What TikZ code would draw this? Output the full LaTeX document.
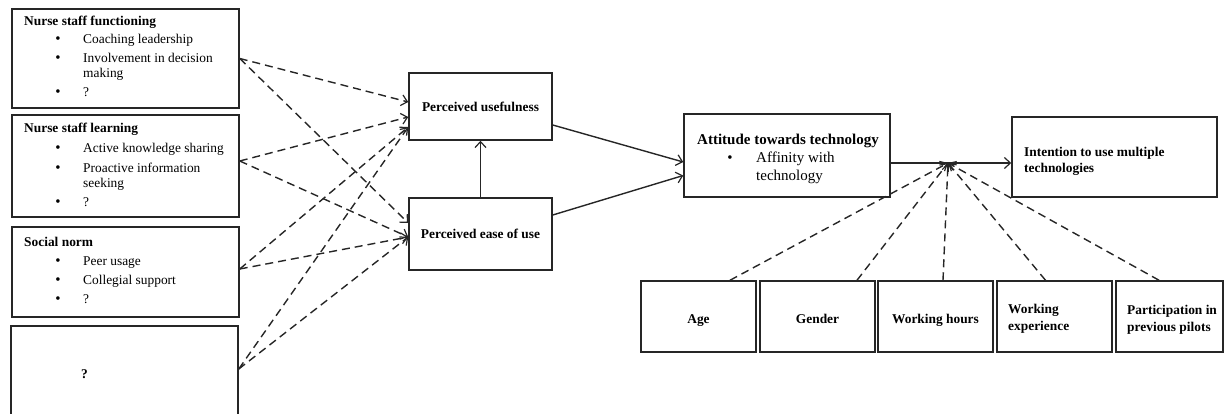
\documentclass[tikz,border=0pt]{standalone}
\usepackage{fontspec}
\setmainfont{Liberation Serif}
\usetikzlibrary{arrows.meta}
\begin{document}
\begin{tikzpicture}[x=1pt,y=-1pt,
  every node/.style={font=\fontsize{13.4}{15}\selectfont},
  box/.style={draw=black!85, line width=1.5pt, rectangle, inner sep=0pt},
  lbl/.style={inner sep=0pt, anchor=base west},
  ttl/.style={lbl, font=\fontsize{13.4}{15}\selectfont\bfseries},
  ctr/.style={inner sep=0pt, anchor=base, font=\fontsize{13.4}{15}\selectfont\bfseries},
  dot/.style={inner sep=0pt, anchor=base, font=\fontsize{15}{15}\selectfont},
  big/.style={font=\fontsize{15}{18}\selectfont},
  tip/.style={-{Straight Barb[length=6pt,width=11pt,line width=1.2pt]}},
  dsh/.style={draw=black!85, line width=1.4pt, dash pattern=on 8pt off 5pt, tip},
  sld/.style={draw=black!85, line width=1.4pt, tip}
]
\path[use as bounding box] (0,0) rectangle (1225,414);
\clip (0,0) rectangle (1225,414);

% ---- antecedent boxes (left column)
\node[box, minimum width=227pt, minimum height=99pt]  (b1) at (125.5,58.5) {};
\node[box, minimum width=227pt, minimum height=102pt] (b2) at (125.5,166) {};
\node[box, minimum width=227pt, minimum height=90pt]  (b3) at (125.5,272) {};
\node[box, minimum width=227pt, minimum height=90pt]  (b4) at (124.5,371) {};

\node[ttl] (b1t) at (24,26) {Nurse staff functioning};
\node[dot] (b1d1) at (58,44) {\textbullet};
\node[lbl] (b1i1) at (83,44) {Coaching leadership};
\node[dot] (b1d2) at (58,63) {\textbullet};
\node[lbl] (b1i2) at (83,63) {Involvement in decision};
\node[lbl] (b1i2b) at (83,78) {making};
\node[dot] (b1d3) at (58,97) {\textbullet};
\node[lbl] (b1i3) at (83,97) {?};

\node[ttl] (b2t) at (24,133) {Nurse staff learning};
\node[dot] (b2d1) at (58,153) {\textbullet};
\node[lbl] (b2i1) at (83,153) {Active knowledge sharing};
\node[dot] (b2d2) at (58,173) {\textbullet};
\node[lbl] (b2i2) at (83,173) {Proactive information};
\node[lbl] (b2i2b) at (83,188) {seeking};
\node[dot] (b2d3) at (58,207) {\textbullet};
\node[lbl] (b2i3) at (83,207) {?};

\node[ttl] (b3t) at (24,246) {Social norm};
\node[dot] (b3d1) at (58,265) {\textbullet};
\node[lbl] (b3i1) at (83,265) {Peer usage};
\node[dot] (b3d2) at (58,284) {\textbullet};
\node[lbl] (b3i2) at (83,284) {Collegial support};
\node[dot] (b3d3) at (58,303) {\textbullet};
\node[lbl] (b3i3) at (83,303) {?};

\node[ttl] (b4t) at (81,378) {?};

% ---- TAM core
\node[box, minimum width=143pt, minimum height=67pt] (pu) at (480.5,106.5) {};
\node[ctr] (put) at (480.5,112) {Perceived usefulness};
\node[box, minimum width=143pt, minimum height=72pt] (peou) at (480.5,234) {};
\node[ctr] (peout) at (480.5,238) {Perceived ease of use};

\node[box, minimum width=206pt, minimum height=83pt] (att) at (787,155.5) {};
\node[ctr, font=\fontsize{15}{18}\selectfont\bfseries] (attt) at (788,145) {Attitude towards technology};
\node[dot] (attd) at (730,163) {\textbullet};
\node[lbl, big] (atti1) at (756,163) {Affinity with};
\node[lbl, big] (atti1b) at (756,181) {technology};

\node[box, minimum width=205pt, minimum height=80pt] (int) at (1114.5,157) {};
\node[ttl] (intt1) at (1024,157) {Intention to use multiple};
\node[ttl] (intt2) at (1024,173) {technologies};

% ---- moderators
\node[box, minimum width=115pt, minimum height=71pt] (age) at (698.5,316.5) {};
\node[box, minimum width=115pt, minimum height=71pt] (gen) at (817.5,316.5) {};
\node[box, minimum width=115pt, minimum height=71pt] (wh)  at (935.5,316.5) {};
\node[box, minimum width=115pt, minimum height=71pt] (we)  at (1054.5,316.5) {};
\node[box, minimum width=107pt, minimum height=71pt] (par) at (1169.5,316.5) {};

\node[ctr] (aget) at (698.5,323) {Age};
\node[ctr] (gent) at (817.5,323) {Gender};
\node[ctr] (wht)  at (935.5,323) {Working hours};
\node[ttl] (wet1) at (1008,313) {Working};
\node[ttl] (wet2) at (1008,330) {experience};
\node[ttl] (part1) at (1127,314) {Participation in};
\node[ttl] (part2) at (1127,331) {previous pilots};

\coordinate (j) at (948,163);

% ---- dashed paths from antecedents
\draw[dsh] (b1.east) -- ([yshift=4.5pt]pu.west);
\draw[dsh] (b1.east) -- ([yshift=11pt]peou.west);
\draw[dsh] ([yshift=5pt]b2.east) -- ([yshift=-10.5pt]pu.west);
\draw[dsh] ([yshift=5pt]b2.east) -- ([yshift=-3pt]peou.west);
\draw[dsh] ([yshift=3pt]b3.east) -- ([yshift=-20.5pt]pu.west);
\draw[dsh] ([yshift=3pt]b3.east) -- ([yshift=-3pt]peou.west);
\draw[dsh] ([yshift=2pt]b4.east) -- ([yshift=-20.5pt]pu.west);
\draw[dsh] ([yshift=2pt]b4.east) -- ([yshift=-3pt]peou.west);

% ---- solid paths
\draw[sld] (peou.north) -- (pu.south);
\draw[sld] ([yshift=-18.5pt]pu.east) -- ([yshift=-6.5pt]att.west);
\draw[sld] ([yshift=19pt]peou.east) -- ([yshift=-20pt]att.west);
\draw[sld] (att.east |- j) -- (int.west |- j);

% ---- moderating effects
\draw[dsh] ([xshift=31.5pt]age.north) -- (j);
\draw[dsh] ([xshift=39.5pt]gen.north) -- (j);
\draw[dsh] ([xshift=7.5pt]wh.north) -- (j);
\draw[dsh] ([xshift=-9pt]we.north) -- (j);
\draw[dsh] ([xshift=-10.5pt]par.north) -- (j);
\end{tikzpicture}
\end{document}
